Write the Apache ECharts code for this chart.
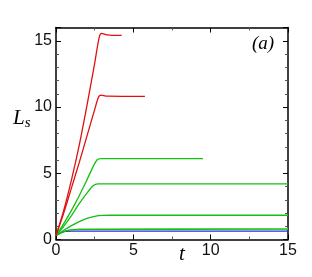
<!DOCTYPE html>
<html><head><meta charset="utf-8">
<script src="https://cdn.jsdelivr.net/npm/echarts@6/dist/echarts.min.js"></script>
<style>html,body{margin:0;padding:0;background:#fff}#c{width:312px;height:277px}</style>
</head><body><div id="c"></div>
<script>
const xTicks = [0, 5, 10, 15];
const yTicks = [0, 5, 10, 15];
const red1 = [[0,0.3],[0.5,2.2],[1,4.5],[1.5,7.1],[2,10.1],[2.5,13.3],[2.8,15.3],[2.95,15.55],[3.3,15.45],[4.25,15.4]];
const red2 = [[0,0.3],[0.5,2.0],[1,3.9],[1.5,5.8],[2,7.8],[2.5,9.8],[2.75,10.75],[2.9,10.9],[3.3,10.82],[5.75,10.8]];
const green1 = [[0,0.3],[0.5,1.2],[1,2.2],[1.5,3.3],[2,4.5],[2.4,5.5],[2.65,6.0],[2.9,6.1],[9.5,6.1]];
const green2 = [[0,0.3],[0.5,1.0],[1,1.8],[1.5,2.7],[2,3.5],[2.4,4.05],[2.7,4.2],[15,4.2]];
const green3 = [[0,0.3],[0.5,0.7],[1,1.05],[1.5,1.35],[2,1.6],[2.5,1.75],[3,1.82],[3.5,1.83],[15,1.83]];
const green4 = [[0,0.3],[0.5,0.6],[1,0.72],[1.5,0.76],[15,0.78]];
const green5 = [[0,0.3],[0.5,0.62],[1,0.75],[1.5,0.79],[15,0.82]];
const blue1 = [[0,0.3],[0.3,0.5],[0.6,0.62],[1,0.63],[15,0.63]];

const chart = echarts.init(document.getElementById('c'));
const lab = {color:'#111', fontFamily:'Liberation Sans, Arial, sans-serif', fontSize:16};
const serif = 'Liberation Serif, Times New Roman, serif';
function mk(data, color, w){return {type:'line', data, showSymbol:false, smooth:0.3, lineStyle:{color, width:w||1.3}, silent:true, animation:false};}
chart.setOption({
  animation:false,
  grid:{left:56, right:24, top:27.5, bottom:37.5},
  xAxis:[
    {type:'value', min:0, max:15, interval:5,
     axisLine:{lineStyle:{color:'#000', width:1.5}},
     axisTick:{inside:true, length:5, lineStyle:{color:'#000'}},
     minorTick:{show:true, splitNumber:2, length:3, lineStyle:{color:'#555'}},
     splitLine:{show:false},
     axisLabel:Object.assign({margin:3, formatter:v=>xTicks.includes(v)?String(v):''}, lab)},
    {type:'value', position:'top', min:0, max:15, interval:5,
     axisLine:{onZero:false, lineStyle:{color:'#000', width:1.5}},
     axisTick:{inside:true, length:5, lineStyle:{color:'#000'}},
     minorTick:{show:true, splitNumber:2, length:3, lineStyle:{color:'#555'}},
     splitLine:{show:false}, axisLabel:{show:false}}
  ],
  yAxis:[
    {type:'value', min:0, max:16, interval:5,
     axisLine:{show:true, lineStyle:{color:'#000', width:1.5}},
     axisTick:{show:true, inside:true, length:5, lineStyle:{color:'#000'}},
     minorTick:{show:true, splitNumber:5, length:3, lineStyle:{color:'#555'}},
     splitLine:{show:false},
     axisLabel:Object.assign({margin:4, showMaxLabel:false, formatter:v=>yTicks.includes(v)?String(v):''}, lab)},
    {type:'value', position:'right', min:0, max:16, interval:5,
     axisLine:{show:true, onZero:false, lineStyle:{color:'#000', width:1.5}},
     axisTick:{show:true, inside:true, length:5, lineStyle:{color:'#000'}},
     minorTick:{show:true, splitNumber:5, length:3, lineStyle:{color:'#555'}},
     splitLine:{show:false}, axisLabel:{show:false}}
  ],
  graphic:[
    {type:'text', left:13, top:108, style:{rich:{L:{fontFamily:serif, fontStyle:'italic', fontSize:21, fill:'#000'}, s:{fontFamily:serif, fontStyle:'italic', fontSize:15, fill:'#000', padding:[9,0,0,0]}}, text:'{L|L}{s|s}'}},
    {type:'text', left:179, top:244, style:{text:'t', fontFamily:serif, fontStyle:'italic', fontSize:21, fill:'#000'}},
    {type:'text', left:252, top:34, style:{text:'(a)', fontFamily:serif, fontStyle:'italic', fontSize:19, fill:'#000'}}
  ],
  series:[
    mk(green5,'#8fe08f',1.1),
    mk(blue1,'#2b2bdd'),
    mk(green4,'#11c011'),
    mk(green3,'#11c011'),
    mk(green2,'#11c011'),
    mk(green1,'#11c011'),
    mk(red2,'#e01010'),
    mk(red1,'#e01010')
  ]
});
</script></body></html>
